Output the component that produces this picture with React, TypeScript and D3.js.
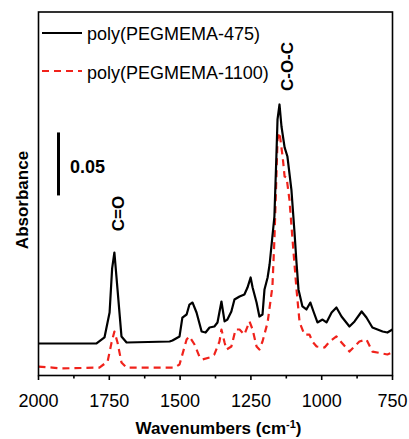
import React from "react";
import * as d3 from "d3";

const wn475 = [2000, 1951, 1795, 1767, 1749, 1740, 1732, 1721, 1707, 1689, 1537, 1527, 1502, 1492, 1477, 1467, 1456, 1442, 1424, 1410, 1396, 1379, 1368, 1354, 1343, 1333, 1319, 1308, 1290, 1273, 1262, 1251, 1244, 1230, 1220, 1209, 1202, 1191, 1184, 1167, 1160, 1156, 1149, 1142, 1131, 1121, 1107, 1096, 1089, 1082, 1068, 1054, 1040, 1029, 1015, 997, 983, 965, 948, 930, 902, 884, 859, 842, 821, 785, 768, 750];
const abs475 = [0.0254, 0.0254, 0.0254, 0.0302, 0.05, 0.085, 0.0976, 0.0683, 0.031, 0.0262, 0.027, 0.0278, 0.031, 0.046, 0.0484, 0.0563, 0.0579, 0.05, 0.0349, 0.0341, 0.0381, 0.0389, 0.0421, 0.0587, 0.0429, 0.0444, 0.0508, 0.0603, 0.0627, 0.0643, 0.0698, 0.0778, 0.0698, 0.0579, 0.0468, 0.0484, 0.0683, 0.0778, 0.0881, 0.1262, 0.1738, 0.2032, 0.2151, 0.1976, 0.181, 0.1738, 0.1476, 0.1135, 0.0897, 0.0683, 0.0548, 0.0524, 0.0579, 0.0508, 0.0421, 0.0444, 0.0421, 0.05, 0.054, 0.0468, 0.0389, 0.0429, 0.0508, 0.046, 0.0381, 0.0349, 0.0341, 0.0365];

const wn1100 = [2000, 1951, 1919, 1785, 1756, 1742, 1732, 1721, 1707, 1689, 1520, 1502, 1477, 1467, 1449, 1432, 1421, 1396, 1379, 1361, 1354, 1343, 1336, 1319, 1304, 1290, 1273, 1255, 1244, 1230, 1220, 1209, 1191, 1174, 1167, 1160, 1156, 1149, 1138, 1131, 1124, 1114, 1103, 1089, 1078, 1061, 1043, 1033, 1018, 990, 972, 948, 930, 902, 867, 842, 821, 768, 750];
const abs1100 = [0.0071, 0.0063, 0.0056, 0.0063, 0.0111, 0.0262, 0.0349, 0.0262, 0.0103, 0.0063, 0.0063, 0.0087, 0.0286, 0.031, 0.0246, 0.0151, 0.0127, 0.0143, 0.0167, 0.027, 0.0365, 0.0262, 0.0206, 0.023, 0.0365, 0.0365, 0.0325, 0.0429, 0.0365, 0.023, 0.0206, 0.027, 0.0421, 0.0706, 0.1079, 0.1579, 0.1873, 0.1929, 0.1738, 0.1579, 0.1571, 0.1397, 0.1079, 0.0683, 0.0421, 0.0325, 0.0325, 0.027, 0.023, 0.0222, 0.027, 0.031, 0.0262, 0.019, 0.027, 0.0286, 0.019, 0.0167, 0.0183];

const xTicks = [2000, 1875, 1750, 1625, 1500, 1375, 1250, 1125, 1000, 875, 750];
const xTickLabels = [2000, 1750, 1500, 1250, 1000, 750];
const seriesNames = ["poly(PEGMEMA-475)", "poly(PEGMEMA-1100)"];
const scaleBar = [0.1429, 0.1929];

const FONT = "'Liberation Sans', Arial, Helvetica, sans-serif";

export default function App() {
  const left = 38.5, right = 392.5, top = 12, bottom = 375.5;
  const x = d3.scaleLinear().domain([2000, 750]).range([left, right]);
  const y = d3.scaleLinear().domain([0, (bottom - top) / 1260]).range([bottom, top]);
  const line = d3.line<[number, number]>().x((d) => x(d[0])).y((d) => y(d[1])).curve(d3.curveLinear);
  const d475 = line(wn475.map((w, i) => [w, abs475[i]] as [number, number])) || "";
  const d1100 = line(wn1100.map((w, i) => [w, abs1100[i]] as [number, number])) || "";

  return (
    <svg width={409} height={439} style={{ display: "block", position: "absolute", left: 0, top: 0 }} fontFamily={FONT}>
      <defs>
        <clipPath id="plot">
          <rect x={left} y={top} width={right - left} height={bottom - top} />
        </clipPath>
      </defs>
      <rect x={0} y={0} width={409} height={439} fill="#fff" />
      <g clipPath="url(#plot)">
        <path d={d1100} fill="none" stroke="#f0221b" strokeWidth={2.2} strokeDasharray="7,5" strokeLinejoin="round" />
        <path d={d475} fill="none" stroke="#000" strokeWidth={2.2} strokeLinejoin="round" />
      </g>
      <rect x={left} y={top} width={right - left} height={bottom - top} fill="none" stroke="#000" strokeWidth={1.6} />
      {xTicks.map((t, i) => (
        <line key={t} x1={x(t)} x2={x(t)} y1={bottom} y2={bottom + (i % 2 === 0 ? 4.5 : 3)} stroke="#000" strokeWidth={1.6} />
      ))}
      {xTickLabels.map((t) => (
        <text key={t} x={x(t)} y={407} textAnchor="middle" fontSize={18} fill="#000">{t}</text>
      ))}
      <text x={(left + right) / 2 + 3} y={434} textAnchor="middle" fontSize={17} fontWeight="bold" fill="#000">
        Wavenumbers (cm<tspan dy={-6} fontSize={11}>-1</tspan><tspan dy={6}>)</tspan>
      </text>
      <text transform={`translate(28,200) rotate(-90)`} textAnchor="middle" fontSize={17} fontWeight="bold" fill="#000">Absorbance</text>
      {/* scale bar */}
      <line x1={58.5} x2={58.5} y1={y(scaleBar[0])} y2={y(scaleBar[1])} stroke="#000" strokeWidth={3} />
      <text x={70} y={173} fontSize={18} fontWeight="bold" fill="#000">0.05</text>
      {/* legend */}
      <line x1={42} x2={82} y1={33} y2={33} stroke="#000" strokeWidth={2.2} />
      <text x={87} y={40} fontSize={18} fill="#000">{seriesNames[0]}</text>
      <line x1={42} x2={82} y1={71} y2={71} stroke="#f0221b" strokeWidth={2.2} strokeDasharray="7,5" />
      <text x={87} y={79} fontSize={18} fill="#000">{seriesNames[1]}</text>
      {/* peak annotations */}
      <text transform={`translate(${x(1719) + 6},213.5) rotate(-90)`} textAnchor="middle" fontSize={17} fontWeight="bold" fill="#000">C=O</text>
      <text transform={`translate(${x(1124) + 6},66.5) rotate(-90)`} textAnchor="middle" fontSize={17} fontWeight="bold" fill="#000">C-O-C</text>
    </svg>
  );
}
